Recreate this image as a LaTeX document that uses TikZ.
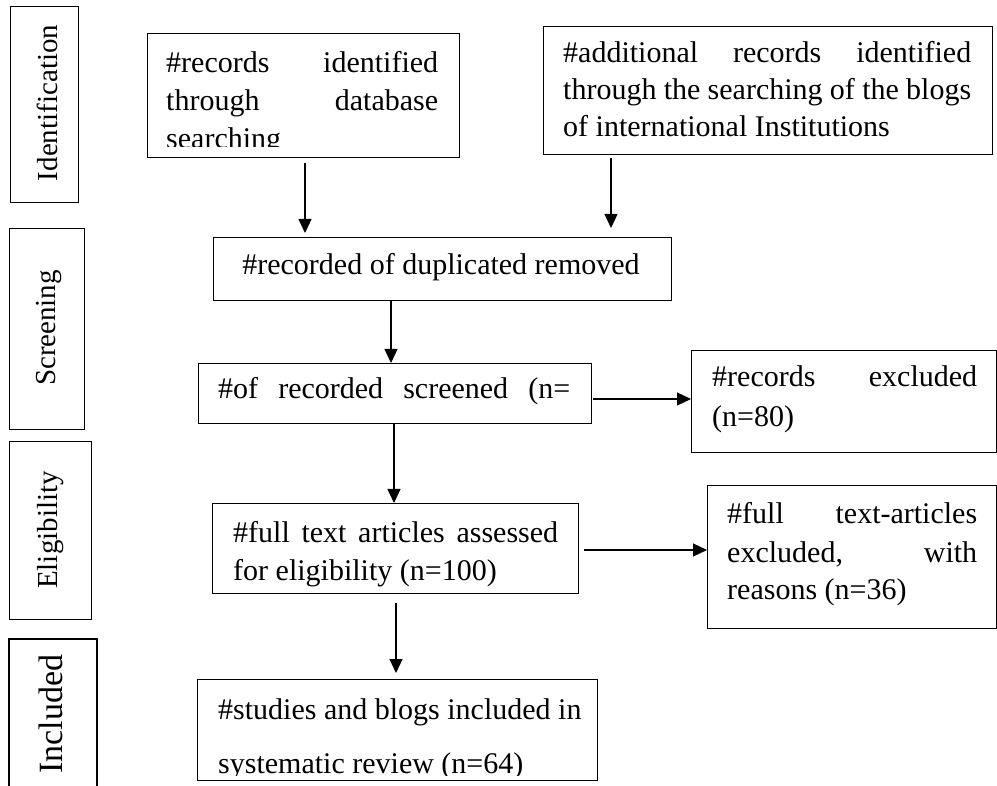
\documentclass[tikz,border=0pt]{standalone}
\usepackage{fontspec}
\setmainfont{Liberation Serif}
\usetikzlibrary{arrows.meta}
\begin{document}
\begin{tikzpicture}[x=1pt,y=-1pt,
  box/.style={draw=black, line width=1.2pt, inner sep=0pt, anchor=north west},
  txt/.style={anchor=base west, inner sep=0pt, font=\fontsize{30}{36}\selectfont},
  ctxt/.style={anchor=base, inner sep=0pt, font=\fontsize{30}{36}\selectfont},
  lbl/.style={rotate=90, inner sep=0pt, font=\fontsize{29}{34}\selectfont},
  arr/.style={line width=1.2pt, -{Triangle[length=14pt,width=13pt]}}]
\useasboundingbox (0,0) rectangle (997,786);

% stage labels
\node[box, minimum width=68pt, minimum height=196pt] (sid) at (10,6) {};
\node[lbl] (lid) at (47,103) {Identification};
\node[box, minimum width=75pt, minimum height=201pt] (ssc) at (9,228) {};
\node[lbl] (lsc) at (49,328) {Screening};
\node[box, minimum width=82pt, minimum height=178pt] (sel) at (9,441) {};
\node[lbl] (lel) at (51,530) {Eligibility};
\coordinate (inA) at (9,786);
\coordinate (inB) at (9,639);
\coordinate (inC) at (97,639);
\coordinate (inD) at (97,786);
\draw[line width=1.2pt] (inA) -- (inB) -- (inC) -- (inD);
\node[lbl, font=\fontsize{34}{40}\selectfont] (lin) at (51,714) {Included};

% boxes
\node[box, minimum width=312pt, minimum height=124pt] (b1) at (147,33) {};
\node[box, minimum width=449pt, minimum height=128pt] (b2) at (543,26) {};
\node[box, minimum width=458pt, minimum height=63pt] (b3) at (213,237) {};
\node[box, minimum width=393pt, minimum height=60pt] (b4) at (198,363) {};
\node[box, minimum width=305pt, minimum height=102pt] (b5) at (691,350) {};
\node[box, minimum width=366pt, minimum height=90pt] (b6) at (212,503) {};
\node[box, minimum width=289pt, minimum height=143pt] (b7) at (707,485) {};
\node[box, minimum width=400pt, minimum height=101pt] (b8) at (197,679) {};

% box 1 text (clipped)
\begin{scope}
\clip (147,33) rectangle (459,147);
\node[txt] (t1a) at (166,73) {\makebox[272pt][s]{\#records identified}};
\node[txt] (t1b) at (166,111) {\makebox[272pt][s]{through database}};
\node[txt] (t1c) at (166,149) {searching};
\end{scope}

% box 2 text
\node[txt] (t2a) at (563,63) {\makebox[408pt][s]{\#additional records identified}};
\node[txt] (t2b) at (563,100) {\makebox[408pt][s]{through the searching of the blogs}};
\node[txt] (t2c) at (563,137) {of international Institutions};

% box 3
\node[ctxt] (t3) at (441,275) {\#recorded of duplicated removed};

% box 4
\node[txt] (t4) at (218,399) {\makebox[352pt][s]{\#of recorded screened (n=}};

% box 5
\node[txt] (t5a) at (712,387) {\makebox[265pt][s]{\#records excluded}};
\node[txt] (t5b) at (712,427) {(n=80)};

% box 6
\node[txt] (t6a) at (233,542) {\makebox[325pt][s]{\#full text articles assessed}};
\node[txt] (t6b) at (233,580) {for eligibility (n=100)};

% box 7
\node[txt] (t7a) at (727,523) {\makebox[250pt][s]{\#full text-articles}};
\node[txt] (t7b) at (727,562) {\makebox[250pt][s]{excluded, with}};
\node[txt] (t7c) at (727,599) {reasons (n=36)};

% box 8 (clipped)
\begin{scope}
\clip (197,679) rectangle (597,775);
\node[txt] (t8a) at (218,719) {\#studies and blogs included in};
\node[txt] (t8b) at (218,773) {systematic review (n=64)};
\end{scope}

% arrows
\coordinate (a1s) at (305,163);
\coordinate (a1e) at (305,233);
\draw[arr] (a1s) -- (a1e);
\coordinate (a2s) at (611,158);
\coordinate (a2e) at (611,228);
\draw[arr] (a2s) -- (a2e);
\coordinate (x3) at (391,0);
\draw[arr] (b3.south -| x3) -- (b4.north -| x3);
\coordinate (a4s) at (593,399);
\draw[arr] (a4s) -- (b5.west |- a4s);
\coordinate (x5) at (394,0);
\draw[arr] (b4.south -| x5) -- (b6.north -| x5);
\coordinate (a6s) at (584,550);
\draw[arr] (a6s) -- (b7.west |- a6s);
\coordinate (a7s) at (396,603);
\coordinate (a7e) at (396,673);
\draw[arr] (a7s) -- (a7e);
\end{tikzpicture}
\end{document}
